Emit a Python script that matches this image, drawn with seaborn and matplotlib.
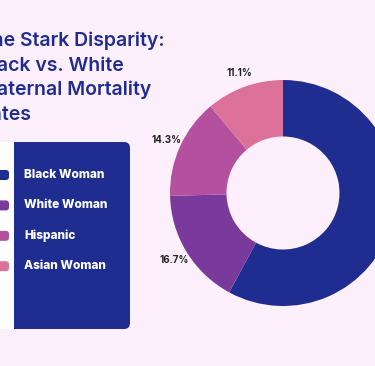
import matplotlib
matplotlib.use("Agg")
import matplotlib.pyplot as plt
from matplotlib.patches import FancyBboxPatch, Rectangle
import seaborn as sns

# data
groups = ["Black Woman", "White Woman", "Hispanic", "Asian Woman"]
shares = [57.9, 16.7, 14.3, 11.1]
colors = ["#1F2D90", "#7A3A9C", "#B4509E", "#DC7299"]
title_lines = ["The Stark Disparity:", "Black vs. White", "Maternal Mortality", "Rates"]

bg = "#FDF0FC"
navy = "#1F2D90"

sns.set_theme(style="white")
plt.rcParams["font.family"] = ["Inter", "DejaVu Sans"]

fig = plt.figure(figsize=(3.75, 3.66), dpi=100)
fig.patch.set_facecolor(bg)

# full-figure overlay axes in pixel units (y down)
base = fig.add_axes([0, 0, 1, 1])
base.set_xlim(0, 375)
base.set_ylim(366, 0)
base.axis("off")

# title, left part runs off the canvas like in the original
for i, line in enumerate(title_lines):
    base.text(-21, 46 + i * 24.6, line, fontsize=14.0, fontweight=600,
              color=navy, ha="left", va="baseline")

# legend panel
panel = FancyBboxPatch((0, 142), 130, 187, boxstyle="round,pad=0,rounding_size=6",
                       facecolor=navy, edgecolor="none")
base.add_patch(panel)
base.add_patch(Rectangle((-20, 142), 34, 187, facecolor="white", edgecolor="none"))
for i, (name, col) in enumerate(zip(groups, colors)):
    y = 175 + i * 30.4
    base.add_patch(FancyBboxPatch((-6, y - 5), 15, 10,
                                  boxstyle="round,pad=0,rounding_size=3",
                                  facecolor=col, edgecolor="none"))
    base.text(24, y, name, fontsize=8.6, fontweight=800, color="white",
              ha="left", va="center")

# donut
cx, cy, r = 283, 193, 113
ax = fig.add_axes([(cx - r) / 375, (366 - cy - r) / 366, 2 * r / 375, 2 * r / 366])
wedges, texts, autotexts = ax.pie(
    shares, colors=colors, startangle=90, counterclock=False,
    autopct="%1.1f%%", pctdistance=1.13,
    wedgeprops=dict(width=0.5, edgecolor="none"),
    textprops=dict(fontsize=7, fontweight="bold", color="#222222"),
)
ax.set_xlim(-1, 1)
ax.set_ylim(-1, 1)
ax.set_aspect("auto")
ax.axis("off")

fig.savefig("out.png", dpi=100, facecolor=bg)
